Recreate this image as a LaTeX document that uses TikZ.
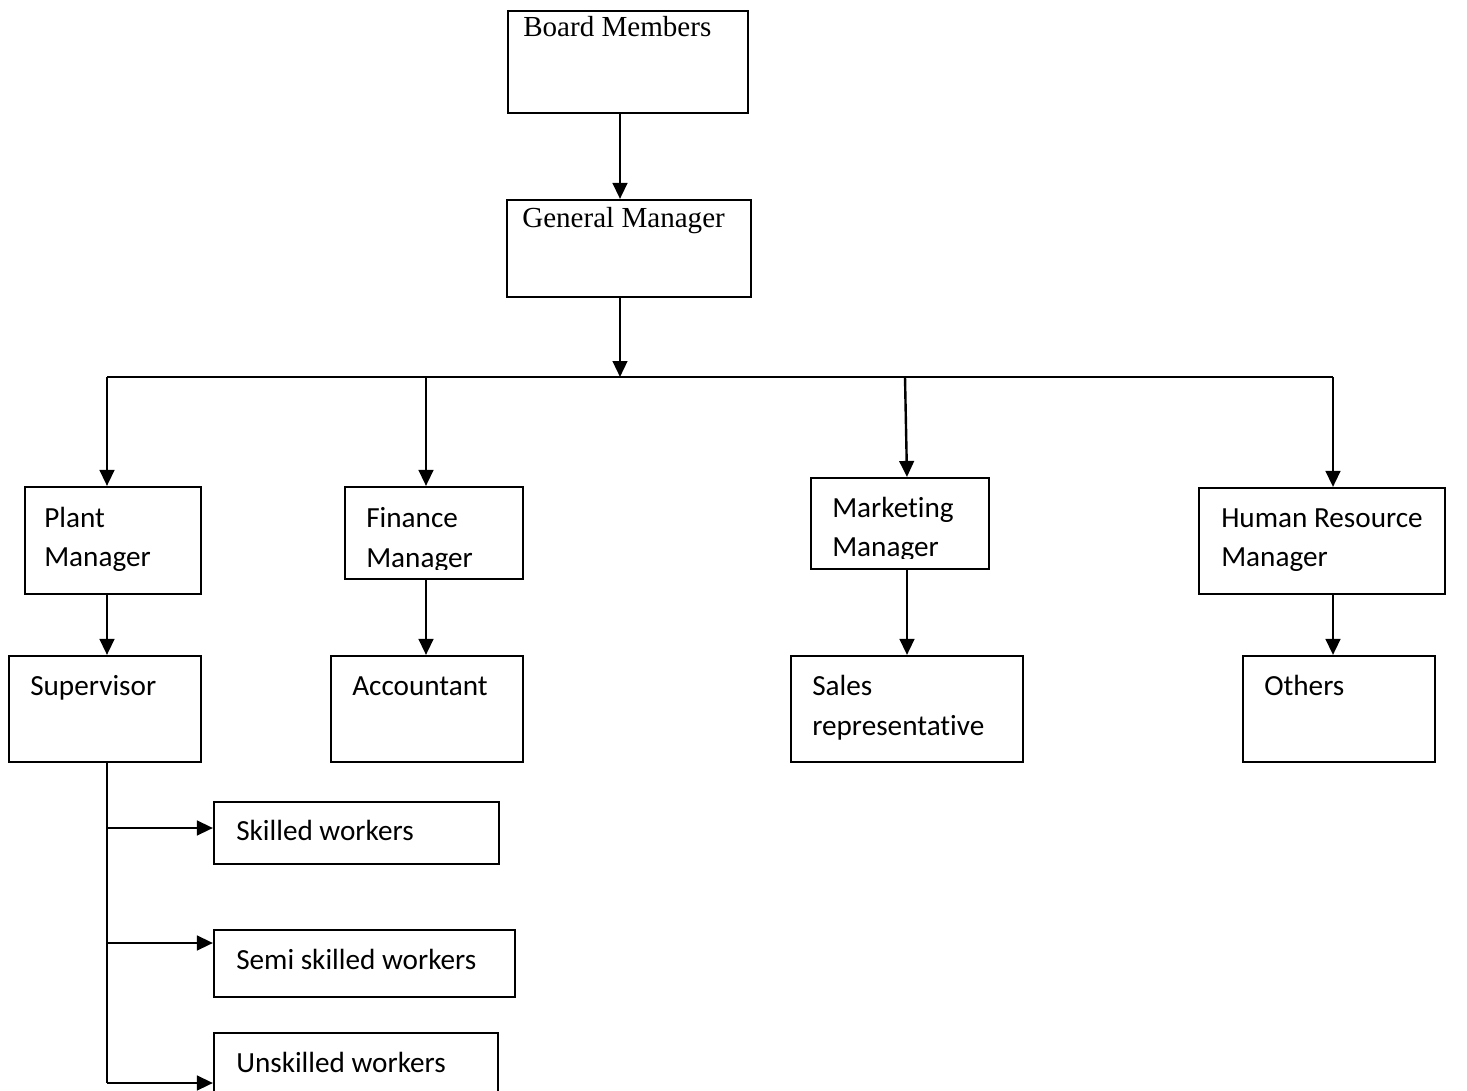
\documentclass[tikz,border=0pt]{standalone}
\usepackage{fontspec}
\setmainfont{Liberation Serif}
\newfontfamily\calfont[Ligatures=NoCommon]{Carlito}
\usetikzlibrary{arrows.meta,fit}
\begin{document}
\begin{tikzpicture}[x=0.75pt,y=-0.75pt,
  box/.style={draw,line width=1.6pt,inner sep=0pt,rectangle},
  serlbl/.style={anchor=base west,inner sep=0pt,font=\fontsize{21.8}{29}\selectfont},
  callbl/.style={anchor=base west,inner sep=0pt,font=\calfont\fontsize{21.9}{29}\selectfont},
  conn/.style={line width=1.8pt},
  arr/.style={line width=1.8pt,-{Triangle[length=12pt,width=11pt]}}]
\useasboundingbox (0,0) rectangle (1467,1091);
% boxes
\node[box,fit={(508,11) (748,113)}] (bm) {};
\node[box,fit={(507,200) (751,297)}] (gm) {};
\node[box,fit={(25,487) (201,594)}] (pm) {};
\node[box,fit={(345,487) (523,579)}] (fm) {};
\node[box,fit={(811,478) (989,569)}] (mm) {};
\node[box,fit={(1199,488) (1445,594)}] (hr) {};
\node[box,fit={(9,656) (201,762)}] (sup) {};
\node[box,fit={(331,656) (523,762)}] (acc) {};
\node[box,fit={(791,656) (1023,762)}] (sal) {};
\node[box,fit={(1243,656) (1435,762)}] (oth) {};
\node[box,fit={(214,802) (499,864)}] (sk) {};
\node[box,fit={(214,930) (515,997)}] (semi) {};
\node[box,fit={(214,1033) (498,1110)}] (un) {};
% texts
\node[serlbl] (tbm) at (523,37) {Board Members};
\node[serlbl] (tgm) at (522,228) {General Manager};
\node[callbl] (tpm1) at (44,527) {Plant};
\node[callbl] (tpm2) at (44,566) {Manager};
\node[callbl] (tfm1) at (366,527) {Finance};
\begin{scope}
\clip (345,487) rectangle (523,569);
\node[callbl] (tfm2) at (366,567) {Manager};
\end{scope}
\node[callbl] (tmm1) at (832,517) {Marketing};
\begin{scope}
\clip (811,478) rectangle (989,558);
\node[callbl] (tmm2) at (832,556) {Manager};
\end{scope}
\node[callbl] (thr1) at (1221,527) {Human Resource};
\node[callbl] (thr2) at (1221,566) {Manager};
\node[callbl] (tsup) at (30,695) {Supervisor};
\node[callbl] (tacc) at (352,695) {Accountant};
\node[callbl] (tsal1) at (812,695) {Sales};
\node[callbl] (tsal2) at (812,735) {representative};
\node[callbl] (toth) at (1264,695) {Others};
\node[callbl] (tsk) at (236,840) {Skilled workers};
\node[callbl] (tsemi) at (236,969) {Semi skilled workers};
\node[callbl] (tun) at (236,1072) {Unskilled workers};
% bus coordinates
\coordinate (bus) at (620,377);
\coordinate (busP) at (107,377);
\coordinate (busF) at (426,377);
\coordinate (busM) at (905,377);
\coordinate (busH) at (1333,377);
\coordinate (colM) at (907,377);
\coordinate (b1) at (107,828);
\coordinate (b2) at (107,943);
\coordinate (b3) at (107,1083);
% connectors
\draw[arr] (bm.south -| bus) -- (gm.north -| bus);
\draw[arr] (gm.south -| bus) -- (bus);
\draw[conn] (busP) -- (busH);
\draw[arr] (busP) -- (busP |- pm.north);
\draw[arr] (busF) -- (busF |- fm.north);
\draw[arr] (busM) -- (colM |- mm.north);
\draw[arr] (busH) -- (busH |- hr.north);
\draw[arr] (busP |- pm.south) -- (busP |- sup.north);
\draw[arr] (busF |- fm.south) -- (busF |- acc.north);
\draw[arr] (colM |- mm.south) -- (colM |- sal.north);
\draw[arr] (busH |- hr.south) -- (busH |- oth.north);
\draw[conn] (busP |- sup.south) -- (b3);
\draw[arr] (b1) -- (b1 -| sk.west);
\draw[arr] (b2) -- (b2 -| semi.west);
\draw[arr] (b3) -- (b3 -| un.west);
\end{tikzpicture}
\end{document}
